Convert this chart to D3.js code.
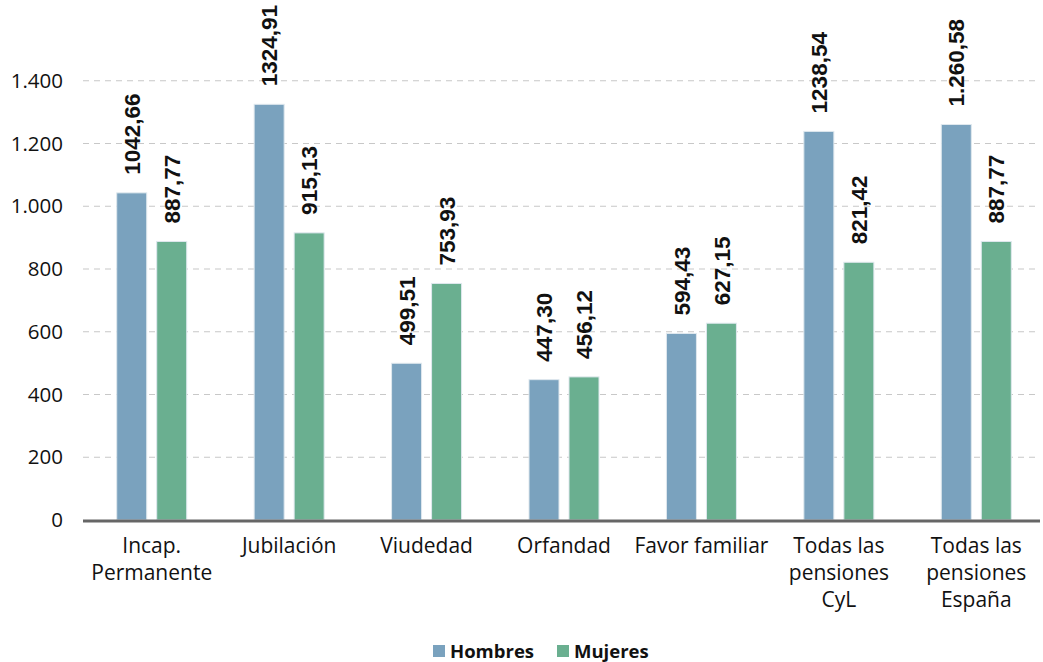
<!DOCTYPE html>
<html lang="es">
<head>
<meta charset="UTF-8">
<title>Pensiones</title>
<script src="https://d3js.org/d3.v7.min.js"></script>
<style>
  body { margin: 0; background: #fff; }
  svg { display: block; }
</style>
</head>
<body>
<div id="chart"></div>
<script>
// datos
const categorias = [
  ["Incap.", "Permanente"],
  ["Jubilación"],
  ["Viudedad"],
  ["Orfandad"],
  ["Favor familiar"],
  ["Todas las", "pensiones", "CyL"],
  ["Todas las", "pensiones", "España"]
];
const hombres = [1042.66, 1324.91, 499.51, 447.30, 594.43, 1238.54, 1260.58];
const mujeres = [887.77, 915.13, 753.93, 456.12, 627.15, 821.42, 887.77];
const etiquetasHombres = ["1042,66", "1324,91", "499,51", "447,30", "594,43", "1238,54", "1.260,58"];
const etiquetasMujeres = ["887,77", "915,13", "753,93", "456,12", "627,15", "821,42", "887,77"];
const ticksY = [0, 200, 400, 600, 800, 1000, 1200, 1400];
const series = ["Hombres", "Mujeres"];

const width = 1043, height = 662;
const colores = { Hombres: "#7aa2be", Mujeres: "#6aaf90" };
const fmt = d3.formatLocale({ decimal: ",", thousands: ".", grouping: [3], currency: ["", "€"] }).format(",d");

const svg = d3.select("#chart").append("svg")
  .attr("width", width).attr("height", height);

const x0 = d3.scaleBand().domain(d3.range(categorias.length)).range([83, 1045]);
const y = d3.scaleLinear().domain([0, 1600]).range([520, 18]);

// rejilla
svg.append("g").selectAll("line")
  .data(ticksY.filter(d => d > 0))
  .join("line")
  .attr("x1", 83).attr("x2", 1040)
  .attr("y1", d => y(d)).attr("y2", d => y(d))
  .attr("stroke", "#c8c8c8").attr("stroke-width", 1.2)
  .attr("stroke-dasharray", "6,5");

// eje y
svg.append("g").selectAll("text")
  .data(ticksY)
  .join("text")
  .attr("x", 63).attr("y", d => y(d))
  .attr("dy", "0.35em")
  .attr("text-anchor", "end")
  .attr("font-family", "Open Sans, sans-serif")
  .attr("font-size", 20.5)
  .attr("fill", "#111")
  .text(d => fmt(d));

const barW = 30, gap = 10;
const grupos = svg.append("g").selectAll("g")
  .data(categorias)
  .join("g")
  .attr("transform", (d, i) => `translate(${x0(i) + x0.bandwidth() / 2},0)`);

function barras(valores, etiquetas, nombre, off) {
  grupos.append("rect")
    .attr("x", off)
    .attr("width", barW)
    .attr("y", (d, i) => y(valores[i]))
    .attr("height", (d, i) => y(0) - y(valores[i]))
    .attr("fill", colores[nombre])
    .attr("stroke", "#dfe8ee").attr("stroke-width", 1);
  grupos.append("text")
    .attr("transform", (d, i) => `translate(${off + barW / 2},${y(valores[i]) - 18}) rotate(-90)`)
    .attr("dy", "0.36em")
    .attr("font-family", "Liberation Sans, Arial, sans-serif")
    .attr("font-weight", "bold")
    .attr("font-size", 22.5)
    .attr("fill", "#111")
    .text((d, i) => etiquetas[i]);
}
barras(hombres, etiquetasHombres, "Hombres", -barW - gap / 2);
barras(mujeres, etiquetasMujeres, "Mujeres", gap / 2);

// eje x
svg.append("line")
  .attr("x1", 83).attr("x2", 1040)
  .attr("y1", y(0) + 1).attr("y2", y(0) + 1)
  .attr("stroke", "#666").attr("stroke-width", 3);

grupos.append("text")
  .attr("y", 553)
  .attr("text-anchor", "middle")
  .attr("font-family", "Open Sans, sans-serif")
  .attr("font-size", 21)
  .attr("fill", "#111")
  .selectAll("tspan")
  .data(d => d)
  .join("tspan")
  .attr("x", 0)
  .attr("dy", (d, i) => i === 0 ? 0 : 27)
  .text(d => d);

// leyenda
const leyX = [433, 557];
const ley = svg.append("g").selectAll("g")
  .data(series)
  .join("g")
  .attr("transform", (d, i) => `translate(${leyX[i]},645)`);
ley.append("rect")
  .attr("width", 12).attr("height", 12)
  .attr("fill", d => colores[d]);
ley.append("text")
  .attr("x", 17).attr("y", 6)
  .attr("dy", "0.36em")
  .attr("font-family", "Open Sans, sans-serif")
  .attr("font-weight", "bold")
  .attr("font-size", 18.5)
  .attr("fill", "#111")
  .text(d => d);
</script>
</body>
</html>
